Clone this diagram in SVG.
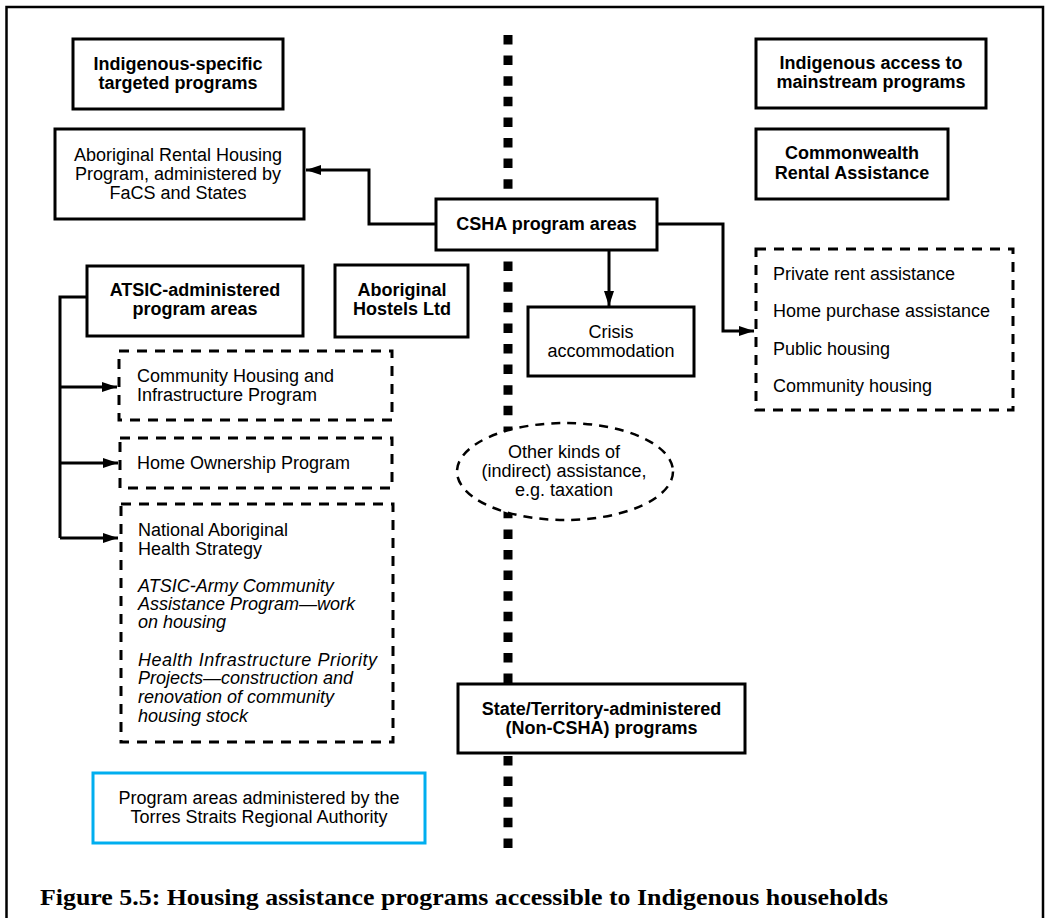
<svg xmlns="http://www.w3.org/2000/svg" width="1049" height="918" viewBox="0 0 1049 918">
  <style>
    .t { font-family: "Liberation Sans", Arial, sans-serif; font-size: 18px; fill: #000; }
    .b { font-weight: bold; }
    .i { font-style: italic; }
    .c { text-anchor: middle; }
    .box { fill: #fff; stroke: #000; stroke-width: 3; }
    .dbox { fill: none; stroke: #000; stroke-width: 3; stroke-dasharray: 10 8; }
    .conn { fill: none; stroke: #000; stroke-width: 3; }
    .cap { font-family: "Liberation Serif", "Times New Roman", serif; font-size: 23px; font-weight: bold; fill: #000; }
  </style>
  <defs>
    <marker id="arr" markerUnits="userSpaceOnUse" markerWidth="16" markerHeight="12" refX="15" refY="5" orient="auto">
      <path d="M0,0 L15,5 L0,10 z" fill="#000"/>
    </marker>
  </defs>

  <rect width="1049" height="918" fill="#fff"/>
  <path d="M6.5,918 V7 H1043 V918" fill="none" stroke="#000" stroke-width="2.5"/>

  <line id="divider" x1="508" y1="35" x2="508" y2="848" stroke="#000" stroke-width="9" stroke-dasharray="9.5 11.1"/>

  <g id="connectors">
    <path class="conn" d="M436,224 H369 V170 H306" marker-end="url(#arr)"/>
    <path class="conn" d="M609,250 V306" marker-end="url(#arr)"/>
    <path class="conn" d="M657,224 H723 V331 H754" marker-end="url(#arr)"/>
    <path class="conn" d="M87,297 H60 V538"/>
    <path class="conn" d="M60,387 H117" marker-end="url(#arr)"/>
    <path class="conn" d="M60,463 H118" marker-end="url(#arr)"/>
    <path class="conn" d="M60,538 H118" marker-end="url(#arr)"/>
  </g>

  <g id="indigenous-specific">
    <rect class="box" x="73" y="39" width="210" height="70"/>
    <text class="t b c" x="178" y="70">Indigenous-specific</text>
    <text class="t b c" x="178" y="89">targeted programs</text>
  </g>

  <g id="aboriginal-rental">
    <rect class="box" x="55" y="129" width="249" height="90"/>
    <text class="t c" x="178" y="161">Aboriginal Rental Housing</text>
    <text class="t c" x="178" y="180">Program, administered by</text>
    <text class="t c" x="178" y="199">FaCS and States</text>
  </g>

  <g id="csha">
    <rect class="box" x="436" y="199" width="221" height="51"/>
    <text class="t b c" x="546.5" y="230">CSHA program areas</text>
  </g>

  <g id="indigenous-access">
    <rect class="box" x="756" y="39" width="230" height="69"/>
    <text class="t b c" x="871" y="69">Indigenous access to</text>
    <text class="t b c" x="871" y="88">mainstream programs</text>
  </g>

  <g id="commonwealth">
    <rect class="box" x="756" y="129" width="192" height="70"/>
    <text class="t b c" x="852" y="159">Commonwealth</text>
    <text class="t b c" x="852" y="179">Rental Assistance</text>
  </g>

  <g id="atsic">
    <rect class="box" x="87" y="266" width="216" height="70"/>
    <text class="t b c" x="195" y="296">ATSIC-administered</text>
    <text class="t b c" x="195" y="315">program areas</text>
  </g>

  <g id="hostels">
    <rect class="box" x="335" y="265" width="133" height="72"/>
    <text class="t b c" x="402" y="296">Aboriginal</text>
    <text class="t b c" x="402" y="315">Hostels Ltd</text>
  </g>

  <g id="crisis">
    <rect class="box" x="528" y="307" width="166" height="69"/>
    <text class="t c" x="611" y="338">Crisis</text>
    <text class="t c" x="611" y="357">accommodation</text>
  </g>

  <g id="mainstream-list">
    <rect class="dbox" x="756" y="249" width="257" height="161"/>
    <text class="t" x="773" y="280">Private rent assistance</text>
    <text class="t" x="773" y="317">Home purchase assistance</text>
    <text class="t" x="773" y="355">Public housing</text>
    <text class="t" x="773" y="392">Community housing</text>
  </g>

  <g id="chip">
    <rect class="dbox" x="119" y="351" width="273" height="69"/>
    <text class="t" x="137" y="382">Community Housing and</text>
    <text class="t" x="137" y="401">Infrastructure Program</text>
  </g>

  <g id="home-ownership">
    <rect class="dbox" x="120" y="438" width="272" height="50"/>
    <text class="t" x="137" y="469">Home Ownership Program</text>
  </g>

  <g id="nahs">
    <rect class="dbox" x="121" y="504" width="272" height="238"/>
    <text class="t" x="138" y="536">National Aboriginal</text>
    <text class="t" x="138" y="555">Health Strategy</text>
    <text class="t i" x="138" y="592">ATSIC-Army Community</text>
    <text class="t i" x="138" y="610">Assistance Program—work</text>
    <text class="t i" x="138" y="628">on housing</text>
    <text class="t i" x="138" y="666" textLength="239" lengthAdjust="spacing">Health Infrastructure Priority</text>
    <text class="t i" x="138" y="684">Projects—construction and</text>
    <text class="t i" x="138" y="703">renovation of community</text>
    <text class="t i" x="138" y="722">housing stock</text>
  </g>

  <g id="other-assistance">
    <ellipse cx="565" cy="471.5" rx="108" ry="48.5" fill="#fff" stroke="#000" stroke-width="2.5" stroke-dasharray="9 7"/>
    <text class="t c" x="564" y="458">Other kinds of</text>
    <text class="t c" x="564" y="477">(indirect) assistance,</text>
    <text class="t c" x="564" y="496">e.g. taxation</text>
  </g>

  <g id="state-territory">
    <rect class="box" x="458" y="684" width="287" height="69"/>
    <text class="t b c" x="601.5" y="715">State/Territory-administered</text>
    <text class="t b c" x="601.5" y="734">(Non-CSHA) programs</text>
  </g>

  <g id="torres-strait">
    <rect x="93" y="773" width="332" height="70" fill="#fff" stroke="#00AEEF" stroke-width="3"/>
    <text class="t c" x="259" y="804">Program areas administered by the</text>
    <text class="t c" x="259" y="823">Torres Straits Regional Authority</text>
  </g>

  <text id="caption" class="cap" x="40" y="905" textLength="848" lengthAdjust="spacingAndGlyphs">Figure 5.5: Housing assistance programs accessible to Indigenous households</text>
</svg>
